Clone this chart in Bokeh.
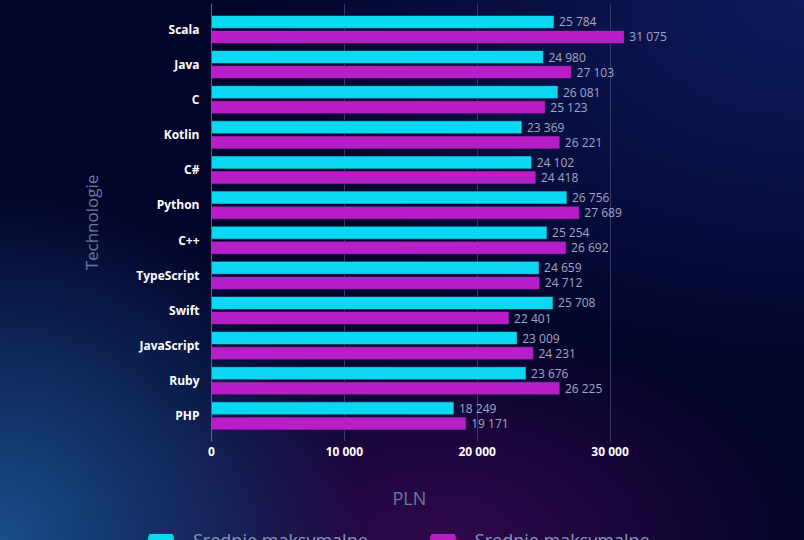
from bokeh.plotting import figure
from bokeh.layouts import column
from bokeh.models import (ColumnDataSource, FactorRange, Range1d, FixedTicker,
                          Legend, LegendItem, Title)
from bokeh.transform import dodge
from bokeh.core.properties import value
from bokeh.embed import file_html
from bokeh.resources import INLINE

categories = ["Scala", "Java", "C", "Kotlin", "C#", "Python", "C++",
              "TypeScript", "Swift", "JavaScript", "Ruby", "PHP"]
series_a = [25784, 24980, 26081, 23369, 24102, 26756, 25254, 24659, 25708, 23009, 23676, 18249]
series_b = [31075, 27103, 25123, 26221, 24418, 27689, 26692, 24712, 22401, 24231, 26225, 19171]
series_names = ["Średnie maksymalne", "Średnie maksymalne"]
x_ticks = [0, 10000, 20000, 30000]


def fmt(v):
    return f"{v:,}".replace(",", " ")


src = ColumnDataSource(dict(
    cat=categories,
    a=series_a,
    b=series_b,
    a_lbl=[fmt(v) for v in series_a],
    b_lbl=[fmt(v) for v in series_b],
))

cyan = "#0ad8f2"
magenta = "#b81ec8"

y_range = FactorRange(factors=list(reversed(categories)),
                      range_padding=0.233, range_padding_units="absolute")

p = figure(width=804, height=534, y_range=y_range, x_range=Range1d(0, 35000),
           output_backend="svg", toolbar_location=None,
           min_border_left=211, min_border_right=128, min_border_top=3,
           min_border_bottom=93)
p.frame_align = False
p.background_fill_alpha = 0
p.border_fill_alpha = 0
p.outline_line_color = None

ra = p.hbar(y=dodge("cat", 0.21, range=y_range), right="a", left=0, height=0.37,
            source=src, fill_color=cyan, line_color="#041030", line_width=0.6)
rb = p.hbar(y=dodge("cat", -0.22, range=y_range), right="b", left=0, height=0.37,
            source=src, fill_color=magenta, line_color="#041030", line_width=0.6)

p.text(x="a", y=dodge("cat", 0.21, range=y_range), text="a_lbl", source=src,
       x_offset=5, text_baseline="middle", text_color="#a4a7c6",
       text_font_size="12px", text_font=value("Open Sans"))
p.text(x="b", y=dodge("cat", -0.22, range=y_range), text="b_lbl", source=src,
       x_offset=5, text_baseline="middle", text_color="#a4a7c6",
       text_font_size="12px", text_font=value("Open Sans"))

# axes
p.xaxis.ticker = FixedTicker(ticks=x_ticks)
p.xaxis.major_label_overrides = {t: fmt(t) for t in x_ticks}
p.xaxis.major_label_text_color = "#ffffff"
p.xaxis.major_label_text_font = "Open Sans"
p.xaxis.major_label_text_font_style = "bold"
p.xaxis.major_label_text_font_size = "12px"
p.xaxis.axis_line_color = None
p.xaxis.major_tick_line_color = None
p.xaxis.major_tick_in = 0
p.xaxis.major_tick_out = 0
p.xaxis.minor_tick_line_color = None
p.xaxis.major_label_standoff = 1

p.yaxis.major_label_text_color = "#ffffff"
p.yaxis.major_label_text_font = "Open Sans"
p.yaxis.major_label_text_font_style = "bold"
p.yaxis.major_label_text_font_size = "12px"
p.yaxis.axis_line_color = "#5a6488"
p.yaxis.major_tick_line_color = None
p.yaxis.minor_tick_line_color = None
p.yaxis.major_label_standoff = 6
p.yaxis.axis_label = "Technologie"
p.yaxis.axis_label_text_color = "#6b7ba0"
p.yaxis.axis_label_text_font = "Open Sans"
p.yaxis.axis_label_text_font_style = "normal"
p.yaxis.axis_label_text_font_size = "17px"
p.yaxis.axis_label_standoff = 30

p.xgrid.grid_line_color = "#363c66"
p.xgrid.grid_line_width = 1
p.ygrid.grid_line_color = None

p.add_layout(Title(text="PLN", align="left", offset=181, standoff=42,
                   text_color="#6b7ba0", text_font="Open Sans",
                   text_font_size="18px", text_font_style="normal"), "below")

# legend strip
pl = figure(width=804, height=6, output_backend="svg", toolbar_location=None,
            x_axis_location=None, y_axis_location=None, min_border=0,
            x_range=Range1d(1, 2), y_range=Range1d(1, 2))
pl.frame_align = False
pl.background_fill_alpha = 0
pl.border_fill_alpha = 0
pl.outline_line_color = None
pl.grid.visible = False
la = pl.scatter(x=[0], y=[0], marker="circle", size=24, fill_color=cyan, line_color=None)
lb = pl.scatter(x=[0], y=[0], marker="circle", size=24, fill_color=magenta, line_color=None)
legend = Legend(items=[LegendItem(label=series_names[0], renderers=[la]),
                       LegendItem(label=series_names[1], renderers=[lb])],
                location=(128, -32), orientation="horizontal",
                background_fill_alpha=0, border_line_color=None,
                label_text_color="#8494bc", label_text_font="Open Sans",
                label_text_font_size="18px", glyph_width=65, glyph_height=65,
                spacing=42, label_standoff=-14, padding=0, margin=0)
pl.add_layout(legend, "center")

layout = column(p, pl, spacing=0)
layout.styles = {"background": (
    "radial-gradient(ellipse 45% 65% at 0% 100%, #1a4f8c 0%, rgba(26,79,140,0) 100%),"
    "radial-gradient(ellipse 45% 40% at 55% 100%, #30084c 0%, rgba(48,8,76,0) 100%),"
    "radial-gradient(ellipse 70% 70% at 100% 0%, #0d1c5c 0%, rgba(13,28,92,0) 100%),"
    "#03042a")}

open("out.html", "w").write(file_html(layout, INLINE))
